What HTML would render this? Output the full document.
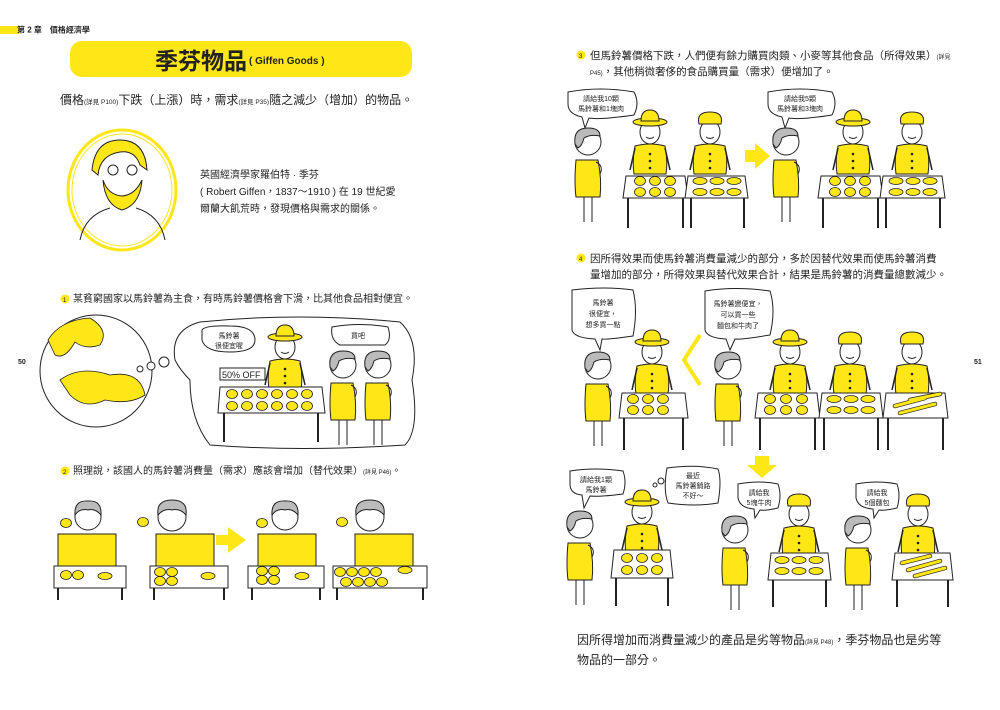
<!DOCTYPE html>
<html><head><meta charset="utf-8"><style>
html,body{margin:0;padding:0;background:#fff;}
body{width:1000px;height:710px;overflow:hidden;position:relative;font-family:"Liberation Sans","Noto Sans CJK TC",sans-serif;color:#222;}
svg{position:absolute;left:0;top:0;}
text{font-family:"Liberation Sans","Noto Sans CJK TC",sans-serif;fill:#222;}
</style></head><body>
<svg width="1000" height="710" viewBox="0 0 1000 710" xmlns="http://www.w3.org/2000/svg">
<defs>
<g id="cust">
 <path d="M-12,18 Q-14,40 -12,55 L12,55 Q14,38 10,18 Z" fill="#ffe617" stroke="#222" stroke-width="1"/>
 <line x1="-4" y1="55" x2="-4" y2="80" stroke="#222" stroke-width="1"/><line x1="4" y1="55" x2="4" y2="80" stroke="#222" stroke-width="1"/>
 <circle cx="0" cy="0" r="13" fill="#fff" stroke="#222" stroke-width="1"/>
 <path d="M-13,2 Q-15,-14 0,-14 Q12,-14 12,-6 Q2,-8 -4,-4 Q-6,4 -10,6 Z" fill="#bbb" stroke="#222" stroke-width="1"/>
 <path d="M8,20 Q16,24 12,32" fill="none" stroke="#222" stroke-width="1"/>
</g>
<g id="vend">
 <path d="M-15,16 Q-18,30 -16,44 L16,44 Q18,30 15,16 Q0,12 -15,16 Z" fill="#ffe617" stroke="#222" stroke-width="1"/>
 <path d="M-15,18 L-20,40 M15,18 L20,40" stroke="#222" stroke-width="1.5"/>
 <circle cx="0" cy="24" r="1.3" fill="#222"/><circle cx="0" cy="31" r="1.3" fill="#222"/><circle cx="0" cy="38" r="1.3" fill="#222"/>
 <ellipse cx="0" cy="2" rx="10" ry="12" fill="#fff" stroke="#222" stroke-width="1"/>
 <path d="M-4,7 Q0,10 4,7" stroke="#222" fill="none"/>
</g>
<g id="hat"><ellipse cx="0" cy="-8" rx="17" ry="4" fill="#ffe617" stroke="#222"/><path d="M-9,-9 Q-9,-20 0,-20 Q9,-20 9,-9 Z" fill="#ffe617" stroke="#222"/></g>
<g id="cap"><path d="M-11,-6 Q-14,-18 0,-18 Q14,-18 11,-6 Z" fill="#ffe617" stroke="#222"/></g>
<g id="pot"><ellipse cx="0" cy="0" rx="5.5" ry="4.5" fill="#ffe617" stroke="#222" stroke-width="0.8"/></g>
<g id="meat"><ellipse cx="0" cy="0" rx="7" ry="3.5" fill="#ffe617" stroke="#222" stroke-width="0.8"/></g>
</defs>

<!-- header -->
<rect x="0" y="26" width="19" height="8" fill="#ffe617"/>
<text x="17" y="32.5" font-size="8" font-weight="bold">第 2 章　價格經濟學</text>
<rect x="70" y="41" width="342" height="36" rx="12" fill="#ffe617"/>
<text x="155" y="69" font-size="23" font-weight="bold">季芬物品</text>
<text x="249" y="64" font-size="10" font-weight="bold">( Giffen Goods )</text>
<text x="60" y="104" font-size="12">價格<tspan font-size="6.5">(詳見 P100)</tspan>下跌（上漲）時，需求<tspan font-size="6.5">(詳見 P35)</tspan>隨之減少（增加）的物品。</text>

<!-- portrait -->
<ellipse cx="122" cy="190" rx="54" ry="60" fill="#fff" stroke="#ffe617" stroke-width="3"/>
<ellipse cx="122" cy="190" rx="50" ry="56" fill="none" stroke="#ffe617" stroke-width="1"/>
<path d="M92,170 Q95,140 120,140 Q145,140 147,170 L140,165 Q135,150 120,152 Q100,155 98,175 Z" fill="#ffe617" stroke="#222"/>
<path d="M103,180 Q105,205 122,210 Q140,205 142,180 Q135,195 122,196 Q108,195 103,180 Z" fill="#ffe617" stroke="#222"/>
<circle cx="113" cy="170" r="5" fill="none" stroke="#222"/><circle cx="132" cy="170" r="5" fill="none" stroke="#222"/>
<path d="M80,240 Q85,215 110,208 M165,240 Q160,215 136,208" fill="none" stroke="#222"/>
<text x="200" y="178" font-size="10">英國經濟學家羅伯特 · 季芬</text>
<text x="200" y="195" font-size="10">( Robert Giffen，1837～1910 ) 在 19 世紀愛</text>
<text x="200" y="212" font-size="10">爾蘭大飢荒時，發現價格與需求的關係。</text>

<!-- step1 -->
<circle cx="65" cy="299" r="4.5" fill="#ffe617"/><text x="63" y="302" font-size="6">1</text>
<text x="73" y="302" font-size="10">某貧窮國家以馬鈴薯為主食，有時馬鈴薯價格會下滑，比其他食品相對便宜。</text>
<text x="18" y="364" font-size="7" font-weight="bold">50</text>
<text x="974" y="364" font-size="7" font-weight="bold">51</text>
<circle cx="96" cy="371" r="56" fill="#fff" stroke="#222"/>
<path d="M48,340 Q60,320 90,318 Q110,330 100,345 Q85,350 75,342 Q65,360 55,355 Z M60,380 Q80,365 110,375 Q140,370 145,395 Q130,405 105,400 Q85,410 70,395 Z" fill="#ffe617" stroke="#222" stroke-width="0.8"/>
<circle cx="140" cy="369" r="3" fill="#fff" stroke="#222"/><circle cx="151" cy="366" r="4" fill="#fff" stroke="#222"/><circle cx="164" cy="362" r="5" fill="#fff" stroke="#222"/>
<path d="M175,360 Q170,330 200,322 Q300,312 400,322 Q420,340 412,380 Q420,430 405,445 Q300,452 210,445 Q190,420 190,380 Q180,370 175,360 Z" fill="#fff" stroke="#222"/>
<path d="M202,330 Q205,325 230,326 Q255,326 255,340 Q255,352 230,352 Q205,352 202,340 Z" fill="#fff" stroke="#222"/>
<text x="229" y="338" font-size="7" text-anchor="middle">馬鈴薯</text><text x="229" y="348" font-size="7" text-anchor="middle">很便宜喔</text>
<path d="M332,327 Q360,322 388,327 Q392,340 385,345 L340,345 Q330,340 332,327 Z" fill="#fff" stroke="#222"/>
<text x="358" y="338" font-size="7" text-anchor="middle">買吧</text>
<rect x="220" y="368" width="45" height="12" fill="#fff" stroke="#222"/><text x="222" y="378" font-size="9">50% OFF</text>
<use href="#vend" x="285" y="345"/><use href="#hat" x="285" y="345"/>
<path d="M220,387 L322,387 L325,413 L218,413 Z" fill="#fff" stroke="#222"/>
<line x1="224" y1="413" x2="224" y2="442" stroke="#222" stroke-width="2"/><line x1="318" y1="413" x2="318" y2="442" stroke="#222" stroke-width="2"/>
<g>
<use href="#pot" x="232" y="394"/><use href="#pot" x="247" y="394"/><use href="#pot" x="262" y="394"/><use href="#pot" x="277" y="394"/><use href="#pot" x="292" y="394"/><use href="#pot" x="307" y="394"/>
<use href="#pot" x="232" y="406"/><use href="#pot" x="247" y="406"/><use href="#pot" x="262" y="406"/><use href="#pot" x="277" y="406"/><use href="#pot" x="292" y="406"/><use href="#pot" x="307" y="406"/>
</g>
<use href="#cust" x="343" y="365"/><use href="#cust" x="378" y="365"/>

<!-- step2 -->
<circle cx="65" cy="471" r="4.5" fill="#ffe617"/><text x="63" y="474" font-size="6">2</text>
<text x="73" y="474" font-size="10">照理說，該國人的馬鈴薯消費量（需求）應該會增加（替代效果）<tspan font-size="6">(詳見 P46)</tspan>。</text>
<g>
<rect x="58" y="534" width="58" height="32" fill="#ffe617" stroke="#222"/>
<circle cx="88" cy="517" r="13" fill="#fff" stroke="#222"/><path d="M75,515 Q74,500 88,501 Q102,500 101,515 Q95,508 88,510 Q80,508 75,515Z" fill="#bbb" stroke="#222"/>
<rect x="54" y="566" width="72" height="22" fill="#fff" stroke="#222"/><line x1="58" y1="588" x2="58" y2="600" stroke="#222" stroke-width="2"/><line x1="122" y1="588" x2="122" y2="600" stroke="#222" stroke-width="2"/>
<use href="#pot" x="66" y="575"/><use href="#pot" x="78" y="575"/><use href="#meat" x="105" y="576"/><use href="#pot" x="66" y="523"/>

<rect x="156" y="534" width="58" height="32" fill="#ffe617" stroke="#222"/>
<circle cx="172" cy="517" r="14" fill="#fff" stroke="#222"/><path d="M158,515 Q156,500 172,500 Q188,500 186,515 Q180,508 172,510 Q164,508 158,515Z" fill="#bbb" stroke="#222"/>
<rect x="150" y="566" width="78" height="22" fill="#fff" stroke="#222"/><line x1="154" y1="588" x2="154" y2="600" stroke="#222" stroke-width="2"/><line x1="224" y1="588" x2="224" y2="600" stroke="#222" stroke-width="2"/>
<use href="#pot" x="160" y="572"/><use href="#pot" x="172" y="572"/><use href="#pot" x="160" y="581"/><use href="#pot" x="172" y="581"/><use href="#meat" x="208" y="576"/><use href="#pot" x="143" y="522"/>

<path d="M216,535 L228,535 L228,527 L246,540 L228,553 L228,545 L216,545 Z" fill="#ffe617"/>

<rect x="258" y="534" width="58" height="32" fill="#ffe617" stroke="#222"/>
<circle cx="285" cy="517" r="13" fill="#fff" stroke="#222"/><path d="M272,515 Q271,500 285,501 Q299,500 298,515 Q292,508 285,510 Q277,508 272,515Z" fill="#bbb" stroke="#222"/>
<rect x="248" y="566" width="76" height="22" fill="#fff" stroke="#222"/><line x1="252" y1="588" x2="252" y2="600" stroke="#222" stroke-width="2"/><line x1="320" y1="588" x2="320" y2="600" stroke="#222" stroke-width="2"/>
<use href="#pot" x="262" y="571"/><use href="#pot" x="274" y="571"/><use href="#pot" x="262" y="580"/><use href="#pot" x="274" y="580"/><use href="#meat" x="302" y="576"/><use href="#pot" x="262" y="523"/>

<rect x="355" y="534" width="58" height="32" fill="#ffe617" stroke="#222"/>
<circle cx="370" cy="517" r="14" fill="#fff" stroke="#222"/><path d="M356,515 Q354,500 370,500 Q386,500 384,515 Q378,508 370,510 Q362,508 356,515Z" fill="#bbb" stroke="#222"/>
<rect x="333" y="566" width="94" height="22" fill="#fff" stroke="#222"/><line x1="337" y1="588" x2="337" y2="600" stroke="#222" stroke-width="2"/><line x1="423" y1="588" x2="423" y2="600" stroke="#222" stroke-width="2"/>
<use href="#pot" x="340" y="572"/><use href="#pot" x="352" y="572"/><use href="#pot" x="364" y="572"/><use href="#pot" x="376" y="572"/><use href="#pot" x="346" y="582"/><use href="#pot" x="358" y="582"/><use href="#pot" x="370" y="582"/><use href="#pot" x="382" y="582"/><use href="#meat" x="405" y="570"/><use href="#pot" x="342" y="522"/>
</g>

<!-- RIGHT: step3 -->
<circle cx="581" cy="55" r="4.5" fill="#ffe617"/><text x="579" y="58" font-size="6">3</text>
<text x="590" y="59" font-size="10.5">但馬鈴薯價格下跌，人們便有餘力購買肉類、小麥等其他食品（所得效果）<tspan font-size="6">(詳見</tspan></text>
<text x="590" y="75" font-size="10.5"><tspan font-size="6">P45)</tspan>，其他稍微奢侈的食品購買量（需求）便增加了。</text>

<path d="M568,92 Q600,86 634,92 Q640,103 634,115 Q600,120 589,118 L585,128 L582,117 Q568,114 568,104 Z" fill="#fff" stroke="#222"/>
<text x="601" y="101" font-size="7" text-anchor="middle">請給我10顆</text><text x="601" y="111" font-size="7" text-anchor="middle">馬鈴薯和1塊肉</text>
<use href="#cust" x="588" y="142"/>
<use href="#vend" x="650" y="130"/><use href="#hat" x="650" y="130"/>
<use href="#vend" x="710" y="130"/><use href="#cap" x="710" y="130"/>
<path d="M626,176 L685,176 L688,198 L623,198 Z" fill="#fff" stroke="#222"/><path d="M688,176 L745,176 L748,198 L685,198 Z" fill="#fff" stroke="#222"/>
<line x1="628" y1="198" x2="628" y2="228" stroke="#222" stroke-width="2"/><line x1="683" y1="198" x2="683" y2="228" stroke="#222" stroke-width="2"/><line x1="691" y1="198" x2="691" y2="228" stroke="#222" stroke-width="2"/><line x1="744" y1="198" x2="744" y2="228" stroke="#222" stroke-width="2"/>
<use href="#pot" x="640" y="181"/><use href="#pot" x="655" y="181"/><use href="#pot" x="670" y="181"/><use href="#pot" x="640" y="192"/><use href="#pot" x="655" y="192"/><use href="#pot" x="670" y="192"/>
<use href="#meat" x="700" y="181"/><use href="#meat" x="717" y="181"/><use href="#meat" x="734" y="181"/><use href="#meat" x="700" y="192"/><use href="#meat" x="717" y="192"/><use href="#meat" x="734" y="192"/>
<path d="M745,150 L755,150 L755,143 L770,156 L755,169 L755,162 L745,162 Z" fill="#ffe617"/>

<path d="M768,92 Q800,86 832,92 Q838,103 832,115 Q800,120 789,118 L785,128 L782,117 Q768,114 768,104 Z" fill="#fff" stroke="#222"/>
<text x="800" y="101" font-size="7" text-anchor="middle">請給我5顆</text><text x="800" y="111" font-size="7" text-anchor="middle">馬鈴薯和3塊肉</text>
<use href="#cust" x="786" y="142"/>
<use href="#vend" x="853" y="130"/><use href="#hat" x="853" y="130"/>
<use href="#vend" x="912" y="130"/><use href="#cap" x="912" y="130"/>
<path d="M821,176 L880,176 L883,198 L818,198 Z" fill="#fff" stroke="#222"/><path d="M883,176 L942,176 L945,198 L880,198 Z" fill="#fff" stroke="#222"/>
<line x1="823" y1="198" x2="823" y2="228" stroke="#222" stroke-width="2"/><line x1="878" y1="198" x2="878" y2="228" stroke="#222" stroke-width="2"/><line x1="886" y1="198" x2="886" y2="228" stroke="#222" stroke-width="2"/><line x1="940" y1="198" x2="940" y2="228" stroke="#222" stroke-width="2"/>
<use href="#pot" x="835" y="181"/><use href="#pot" x="850" y="181"/><use href="#pot" x="865" y="181"/><use href="#pot" x="835" y="192"/><use href="#pot" x="850" y="192"/><use href="#pot" x="865" y="192"/>
<use href="#meat" x="896" y="181"/><use href="#meat" x="913" y="181"/><use href="#meat" x="930" y="181"/><use href="#meat" x="896" y="192"/><use href="#meat" x="913" y="192"/><use href="#meat" x="930" y="192"/>

<!-- step4 -->
<circle cx="581" cy="258" r="4.5" fill="#ffe617"/><text x="579" y="261" font-size="6">4</text>
<text x="590" y="262" font-size="10.5">因所得效果而使馬鈴薯消費量減少的部分，多於因替代效果而使馬鈴薯消費</text>
<text x="590" y="278" font-size="10.5">量增加的部分，所得效果與替代效果合計，結果是馬鈴薯的消費量總數減少。</text>

<path d="M572,290 Q605,286 633,290 Q638,310 633,336 Q605,340 602,339 L600,350 L595,339 Q574,338 572,330 Z" fill="#fff" stroke="#222"/>
<text x="603" y="305" font-size="7" text-anchor="middle">馬鈴薯</text><text x="603" y="316" font-size="7" text-anchor="middle">很便宜，</text><text x="603" y="327" font-size="7" text-anchor="middle">想多買一點</text>
<path d="M705,291 Q735,286 770,291 Q776,310 770,335 Q740,340 735,339 L730,350 L726,339 Q707,338 705,330 Z" fill="#fff" stroke="#222"/>
<text x="738" y="306" font-size="7" text-anchor="middle">馬鈴薯變便宜，</text><text x="738" y="317" font-size="7" text-anchor="middle">可以買一些</text><text x="738" y="328" font-size="7" text-anchor="middle">麵包和牛肉了</text>
<use href="#cust" x="598" y="366"/>
<use href="#vend" x="652" y="350"/><use href="#hat" x="652" y="350"/>
<path d="M622,393 L685,393 L688,418 L619,418 Z" fill="#fff" stroke="#222"/>
<line x1="624" y1="418" x2="624" y2="450" stroke="#222" stroke-width="2"/><line x1="683" y1="418" x2="683" y2="450" stroke="#222" stroke-width="2"/>
<use href="#pot" x="633" y="399"/><use href="#pot" x="648" y="399"/><use href="#pot" x="663" y="399"/><use href="#pot" x="633" y="410"/><use href="#pot" x="648" y="410"/><use href="#pot" x="663" y="410"/>
<path d="M700,335 L684,360 L700,385" fill="none" stroke="#ffe617" stroke-width="4"/>
<use href="#cust" x="728" y="366"/>
<use href="#vend" x="790" y="350"/><use href="#hat" x="790" y="350"/>
<use href="#vend" x="850" y="350"/><use href="#cap" x="850" y="350"/>
<use href="#vend" x="912" y="350"/><use href="#cap" x="912" y="350"/>
<path d="M758,393 L817,393 L820,418 L755,418 Z" fill="#fff" stroke="#222"/><path d="M822,393 L880,393 L883,418 L819,418 Z" fill="#fff" stroke="#222"/><path d="M886,393 L945,393 L948,418 L883,418 Z" fill="#fff" stroke="#222"/>
<line x1="760" y1="418" x2="760" y2="450" stroke="#222" stroke-width="2"/><line x1="815" y1="418" x2="815" y2="450" stroke="#222" stroke-width="2"/><line x1="824" y1="418" x2="824" y2="450" stroke="#222" stroke-width="2"/><line x1="878" y1="418" x2="878" y2="450" stroke="#222" stroke-width="2"/><line x1="888" y1="418" x2="888" y2="450" stroke="#222" stroke-width="2"/><line x1="943" y1="418" x2="943" y2="450" stroke="#222" stroke-width="2"/>
<use href="#pot" x="770" y="399"/><use href="#pot" x="786" y="399"/><use href="#pot" x="802" y="399"/><use href="#pot" x="770" y="410"/><use href="#pot" x="786" y="410"/><use href="#pot" x="802" y="410"/>
<use href="#meat" x="834" y="399"/><use href="#meat" x="851" y="399"/><use href="#meat" x="868" y="399"/><use href="#meat" x="834" y="410"/><use href="#meat" x="851" y="410"/><use href="#meat" x="868" y="410"/>
<path d="M895,406 L925,398 M900,413 L935,404 M910,400 L940,394" stroke="#222" stroke-width="4.5" stroke-linecap="round"/><path d="M895,406 L925,398 M900,413 L935,404 M910,400 L940,394" stroke="#ffe617" stroke-width="3" stroke-linecap="round"/>

<path d="M755,456 L769,456 L769,465 L777,465 L762,478 L747,465 L755,465 Z" fill="#ffe617"/>

<!-- bottom row -->
<path d="M570,471 Q595,467 623,471 Q627,482 623,494 Q600,497 590,496 L584,508 L582,495 Q570,494 570,484 Z" fill="#fff" stroke="#222"/>
<text x="596" y="482" font-size="7" text-anchor="middle">請給我1顆</text><text x="596" y="492" font-size="7" text-anchor="middle">馬鈴薯</text>
<circle cx="655" cy="485" r="2" fill="#fff" stroke="#222"/><circle cx="661" cy="481" r="3" fill="#fff" stroke="#222"/>
<path d="M667,468 Q695,464 718,469 Q722,480 718,503 Q695,507 668,503 Q663,490 667,468 Z" fill="#fff" stroke="#222"/>
<text x="693" y="478" font-size="7" text-anchor="middle">最近</text><text x="693" y="488" font-size="7" text-anchor="middle">馬鈴薯銷路</text><text x="693" y="498" font-size="7" text-anchor="middle">不好～</text>
<use href="#cust" x="580" y="525"/>
<use href="#vend" x="642" y="510"/><use href="#hat" x="642" y="510"/>
<path d="M614,550 L670,550 L673,578 L611,578 Z" fill="#fff" stroke="#222"/>
<line x1="616" y1="578" x2="616" y2="606" stroke="#222" stroke-width="2"/><line x1="668" y1="578" x2="668" y2="606" stroke="#222" stroke-width="2"/>
<use href="#pot" x="627" y="558"/><use href="#pot" x="642" y="558"/><use href="#pot" x="657" y="558"/><use href="#pot" x="627" y="570"/><use href="#pot" x="642" y="570"/><use href="#pot" x="657" y="570"/>

<path d="M738,484 Q760,480 778,484 Q782,495 778,508 Q765,511 760,510 L755,518 L754,509 Q740,508 738,498 Z" fill="#fff" stroke="#222"/>
<text x="759" y="495" font-size="7" text-anchor="middle">請給我</text><text x="759" y="505" font-size="7" text-anchor="middle">5塊牛肉</text>
<use href="#cust" x="735" y="530"/>
<use href="#vend" x="799" y="512"/><use href="#cap" x="799" y="512"/>
<path d="M771,553 L828,553 L831,580 L768,580 Z" fill="#fff" stroke="#222"/>
<line x1="773" y1="580" x2="773" y2="607" stroke="#222" stroke-width="2"/><line x1="826" y1="580" x2="826" y2="607" stroke="#222" stroke-width="2"/>
<use href="#meat" x="782" y="560"/><use href="#meat" x="799" y="560"/><use href="#meat" x="816" y="560"/><use href="#meat" x="782" y="571"/><use href="#meat" x="799" y="571"/><use href="#meat" x="816" y="571"/>

<path d="M856,484 Q878,480 897,484 Q901,495 897,508 Q884,511 879,510 L874,518 L873,509 Q858,508 856,498 Z" fill="#fff" stroke="#222"/>
<text x="877" y="495" font-size="7" text-anchor="middle">請給我</text><text x="877" y="505" font-size="7" text-anchor="middle">5個麵包</text>
<use href="#cust" x="858" y="530"/>
<use href="#vend" x="918" y="512"/><use href="#cap" x="918" y="512"/>
<path d="M895,553 L950,553 L953,580 L892,580 Z" fill="#fff" stroke="#222"/>
<line x1="897" y1="580" x2="897" y2="607" stroke="#222" stroke-width="2"/><line x1="948" y1="580" x2="948" y2="607" stroke="#222" stroke-width="2"/>
<path d="M902,563 L930,556 M908,570 L940,561 M915,576 L945,568" stroke="#222" stroke-width="4.5" stroke-linecap="round"/><path d="M902,563 L930,556 M908,570 L940,561 M915,576 L945,568" stroke="#ffe617" stroke-width="3" stroke-linecap="round"/>

<text x="577" y="644" font-size="12">因所得增加而消費量減少的產品是劣等物品<tspan font-size="6">(詳見 P48)</tspan>，季芬物品也是劣等</text>
<text x="577" y="664" font-size="12">物品的一部分。</text>
</svg>
</body></html>
